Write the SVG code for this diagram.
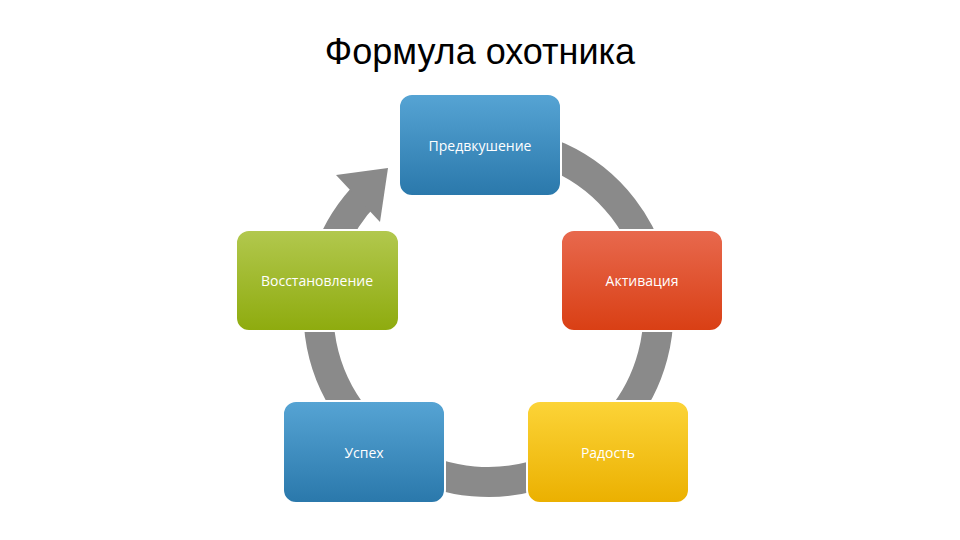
<svg xmlns="http://www.w3.org/2000/svg" width="960" height="540" viewBox="0 0 960 540">
<defs>
<linearGradient id="gb" x1="0" y1="0" x2="0" y2="1"><stop offset="0" stop-color="#56a4d4"/><stop offset="1" stop-color="#2a78ab"/></linearGradient>
<linearGradient id="gg" x1="0" y1="0" x2="0" y2="1"><stop offset="0" stop-color="#b2c84e"/><stop offset="1" stop-color="#8eab0e"/></linearGradient>
<linearGradient id="gr" x1="0" y1="0" x2="0" y2="1"><stop offset="0" stop-color="#e8694e"/><stop offset="1" stop-color="#d93f14"/></linearGradient>
<linearGradient id="gy" x1="0" y1="0" x2="0" y2="1"><stop offset="0" stop-color="#fcd438"/><stop offset="1" stop-color="#ebb000"/></linearGradient>
<style>
.n{stroke:#fff;stroke-width:2}
.t{font-family:"Open Sans","DejaVu Sans",sans-serif;font-size:14px;fill:#fff;text-anchor:middle}
</style>
</defs>
<rect width="960" height="540" fill="#fff"/>
<text x="480" y="64" font-family="Liberation Sans,Arial,sans-serif" font-size="36" text-anchor="middle" fill="#000">Формула охотника</text>
<g id="connectors">
<path d="M488 142 A170 170 0 1 1 368 192" fill="none" stroke="#8a8a8a" stroke-width="30"/>
<polygon points="336,175 388,168 380,222" fill="#8a8a8a"/>
</g>
<g id="n1"><rect class="n" x="399" y="94" width="162" height="102" rx="13" fill="url(#gb)"/><text class="t" x="480" y="151">Предвкушение</text></g>
<g id="n2"><rect class="n" x="561" y="230" width="162" height="101" rx="13" fill="url(#gr)"/><text class="t" x="642" y="286">Активация</text></g>
<g id="n3"><rect class="n" x="527" y="401" width="162" height="102" rx="13" fill="url(#gy)"/><text class="t" x="608" y="458">Радость</text></g>
<g id="n4"><rect class="n" x="283" y="401" width="162" height="102" rx="13" fill="url(#gb)"/><text class="t" x="364" y="458">Успех</text></g>
<g id="n5"><rect class="n" x="236" y="230" width="163" height="101" rx="13" fill="url(#gg)"/><text class="t" x="317" y="286">Восстановление</text></g>
</svg>
